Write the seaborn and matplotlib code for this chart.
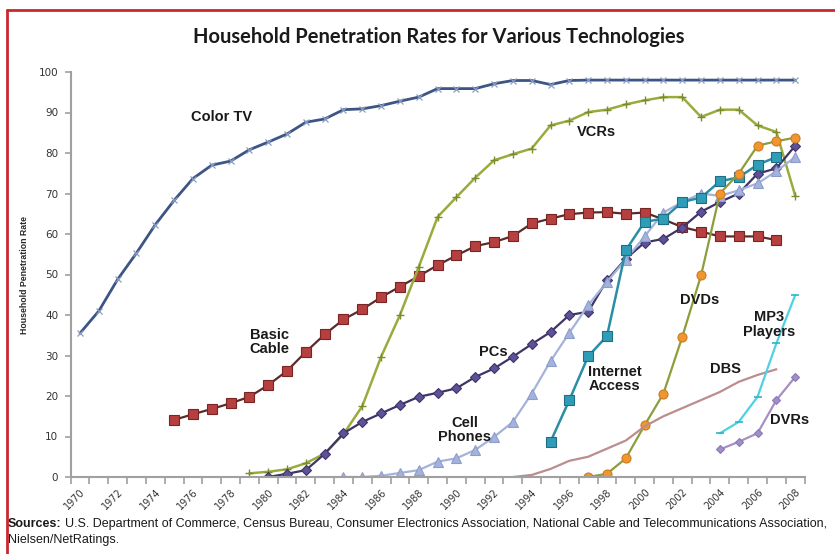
import matplotlib
matplotlib.use("Agg")
import matplotlib.pyplot as plt
from matplotlib.lines import Line2D
from matplotlib.ticker import FixedLocator, NullFormatter
import seaborn as sns
import pandas as pd

# ---- data: household penetration (%) by year ----
years = list(range(1970, 2009))
tick_years = list(range(1970, 2009, 2))

color_tv_from = 1970
color_tv = [35.5, 41, 48.8, 55.3, 62.3, 68.3, 73.7, 77, 78, 80.8,
            82.7, 84.7, 87.6, 88.4, 90.7, 90.9, 91.7, 92.8, 93.8, 95.9,
            95.9, 95.9, 97.1, 97.9, 97.9, 96.9, 97.9, 98, 98, 98,
            98, 98, 98, 98, 98, 98, 98, 98, 98]

basic_cable_from = 1975
basic_cable = [14.1, 15.5, 16.8, 18.2, 19.8, 22.7, 26.2, 30.9, 35.2, 38.9,
               41.4, 44.4, 47, 49.6, 52.3, 54.7, 57, 58, 59.5, 62.6,
               63.8, 64.9, 65.3, 65.4, 65, 65.3, 63.6, 61.7, 60.6, 59.4,
               59.4, 59.4, 58.5]

vcr_from = 1979
vcr = [0.9, 1.3, 1.9, 3.4, 5.8, 10.6, 17.5, 29.7, 40, 51.9,
       64.2, 69.1, 73.9, 78.2, 79.7, 81.1, 86.8, 88, 90.1, 90.7,
       92, 93, 93.8, 93.8, 88.9, 90.7, 90.7, 86.8, 85.2, 69.5]

pcs_from = 1980
pcs = [0, 0.8, 1.7, 5.7, 10.8, 13.6, 15.7, 17.8, 19.8, 20.8,
       21.9, 24.7, 26.8, 29.7, 32.8, 35.8, 40, 40.8, 48.6, 53.9,
       57.9, 58.8, 61.6, 65.5, 67.9, 70, 74.9, 76.2, 81.8]

cell_from = 1984
cell_phones = [0, 0, 0.3, 1, 1.7, 3.8, 4.6, 6.7, 9.9, 13.6,
               20.6, 28.6, 35.6, 42.4, 48.2, 53.7, 59.4, 65.3, 67.9, 70,
               69.4, 70.8, 72.5, 75.5, 79]

internet_from = 1995
internet = [8.7, 19, 29.8, 34.8, 56, 63, 63.8, 67.9, 69, 73, 74, 77.1, 79]

dvd_from = 1997
dvds = [0, 0.8, 4.6, 12.8, 20.6, 34.6, 49.8, 70, 74.9, 81.8, 82.9, 83.8]

dbs_from = 1993
dbs = [0, 0.5, 2, 4, 5, 7, 9, 12.5, 15, 17, 19, 21, 23.5, 25.2, 26.6]

mp3_from = 2004
mp3 = [10.8, 13.6, 19.8, 33, 44.9]

dvr_from = 2004
dvrs = [6.8, 8.7, 10.8, 19, 24.7]

frames = []
for name, start, vals in [
    ("Color TV", color_tv_from, color_tv),
    ("Basic Cable", basic_cable_from, basic_cable),
    ("VCRs", vcr_from, vcr),
    ("PCs", pcs_from, pcs),
    ("Cell Phones", cell_from, cell_phones),
    ("Internet Access", internet_from, internet),
    ("DVDs", dvd_from, dvds),
    ("DBS", dbs_from, dbs),
    ("MP3 Players", mp3_from, mp3),
    ("DVRs", dvr_from, dvrs),
]:
    i0 = years.index(start)
    frames.append(pd.DataFrame({"year": years[i0:i0 + len(vals)], "rate": vals, "tech": name}))
df = pd.concat(frames, ignore_index=True)

# ---- per-series styling ----
styles = {
    "Color TV":        dict(color="#3d5586", lw=2.0, marker="x", ms=5, mfc="#8a9cc0", mec="#8a9cc0", mew=0.9),
    "Basic Cable":     dict(color="#5b2b2b", lw=1.6, marker="s", ms=6.5, mfc="#b5403f", mec="#7a2424", mew=0.8),
    "VCRs":            dict(color="#9aab3e", lw=1.8, marker="+", ms=6, mfc="#7c8c2c", mec="#7c8c2c", mew=1.0),
    "PCs":             dict(color="#3e3468", lw=1.6, marker="D", ms=5.5, mfc="#5f5097", mec="#3e3468", mew=0.8),
    "Cell Phones":     dict(color="#a4b3db", lw=1.6, marker="^", ms=6.5, mfc="#a4b3db", mec="#8d9dcb", mew=0.8),
    "Internet Access": dict(color="#2a8ea6", lw=1.8, marker="s", ms=6.5, mfc="#2f9db7", mec="#1f6e84", mew=0.8),
    "DVDs":            dict(color="#8a9e3a", lw=1.6, marker="o", ms=6.5, mfc="#f0962f", mec="#cf7a22", mew=0.8),
    "DBS":             dict(color="#bb8d8c", lw=1.6, marker=None, ms=0, mfc="none", mec="none", mew=0),
    "MP3 Players":     dict(color="#4fd1e2", lw=1.6, marker="_", ms=6, mfc="#2fb5c8", mec="#2fb5c8", mew=1.2),
    "DVRs":            dict(color="#a590c6", lw=1.6, marker="D", ms=4.5, mfc="#a38fc7", mec="#8c77b4", mew=0.8),
}

sns.set_theme(style="white")
plt.rcParams["font.family"] = ["Liberation Sans", "DejaVu Sans"]

fig = plt.figure(figsize=(8.35, 5.54), dpi=100)
ax = fig.add_axes([70.6 / 835, 1 - 477 / 554, 734 / 835, 405 / 554])

for name, st in styles.items():
    sub = df[df["tech"] == name]
    sns.lineplot(data=sub, x="year", y="rate", ax=ax, color=st["color"], linewidth=st["lw"],
                 marker=st["marker"], markersize=st["ms"], markerfacecolor=st["mfc"],
                 markeredgecolor=st["mec"], markeredgewidth=st["mew"],
                 estimator=None, sort=False, legend=False)

ax.set_xlim(1969.5, 2008.5)
ax.set_ylim(0, 100)
ax.set_xlabel("")
ax.set_ylabel("Household Penetration Rate", fontsize=6.3, fontweight="bold", labelpad=7)

# category-style axis: ticks between years, labels every second year
ax.xaxis.set_major_locator(FixedLocator(tick_years))
ax.set_xticklabels([str(y) for y in tick_years])
ax.xaxis.set_minor_locator(FixedLocator([y - 0.5 for y in years] + [2008.5]))
ax.xaxis.set_minor_formatter(NullFormatter())
ax.tick_params(axis="x", which="major", length=0, pad=7, labelsize=7, labelcolor="#333333")
ax.tick_params(axis="x", which="minor", length=5, width=1.2, color="#a0a0a0", direction="out", bottom=True)
for lab in ax.get_xticklabels():
    lab.set_rotation(45)
    lab.set_ha("right")
    lab.set_va("top")
    lab.set_rotation_mode("anchor")
    lab.set_fontfamily("DejaVu Sans")

ax.set_yticks(range(0, 101, 10))
ax.tick_params(axis="y", length=4, width=1.2, color="#a0a0a0", direction="out", left=True,
               pad=5, labelsize=7.5, labelcolor="#333333")
for lab in ax.get_yticklabels():
    lab.set_fontfamily("DejaVu Sans")

for side in ("top", "right"):
    ax.spines[side].set_visible(False)
for side in ("left", "bottom"):
    ax.spines[side].set_color("#a0a0a0")
    ax.spines[side].set_linewidth(1.5)
ax.grid(False)

# series labels
labels = [
    ("Color TV", 1977.53, 88.9),
    ("VCRs", 1997.45, 85.2),
    ("Basic\nCable", 1980.05, 33.3),
    ("PCs", 1991.96, 30.9),
    ("Cell\nPhones", 1990.45, 11.6),
    ("Internet\nAccess", 1998.4, 24.2),
    ("DVDs", 2002.9, 43.6),
    ("MP3\nPlayers", 2006.6, 37.7),
    ("DBS", 2004.3, 26.6),
    ("DVRs", 2007.7, 14.0),
]
for text, x, y in labels:
    ax.text(x, y, text, ha="center", va="center", fontsize=10.5, fontweight="bold",
            color="#1a1a1a", linespacing=1.05)

fig.text(439 / 835, 1 - 37 / 554, "Household Penetration Rates for Various Technologies",
         ha="center", va="center", fontsize=14.5, fontweight="bold", family="Lato", color="#1a1a1a")

# source note: bold lead-in followed by the regular text on the same line
src_size = 9.0
lead = fig.text(8 / 835, 1 - 524 / 554, "Sources:", ha="left", va="center", fontsize=src_size,
                fontweight="bold", color="#1a1a1a")
fig.canvas.draw()
lead_right = lead.get_window_extent().x1 / fig.bbox.width
fig.text(lead_right + 3 / 835, 1 - 524 / 554,
         "U.S. Department of Commerce, Census Bureau, Consumer Electronics Association, "
         "National Cable and Telecommunications Association,",
         ha="left", va="center", fontsize=src_size, color="#1a1a1a")
fig.text(8 / 835, 1 - 540 / 554, "Nielsen/NetRatings.", ha="left", va="center",
         fontsize=src_size, color="#1a1a1a")

# red frame (top and left edges visible)
frame = "#c8282e"
fig.add_artist(Line2D([7 / 835, 1.0], [1 - 10 / 554, 1 - 10 / 554], transform=fig.transFigure,
                      color=frame, lw=2))
fig.add_artist(Line2D([7 / 835, 7 / 835], [0.0, 1 - 10 / 554], transform=fig.transFigure,
                      color=frame, lw=2))

fig.savefig("out.png", dpi=100)
